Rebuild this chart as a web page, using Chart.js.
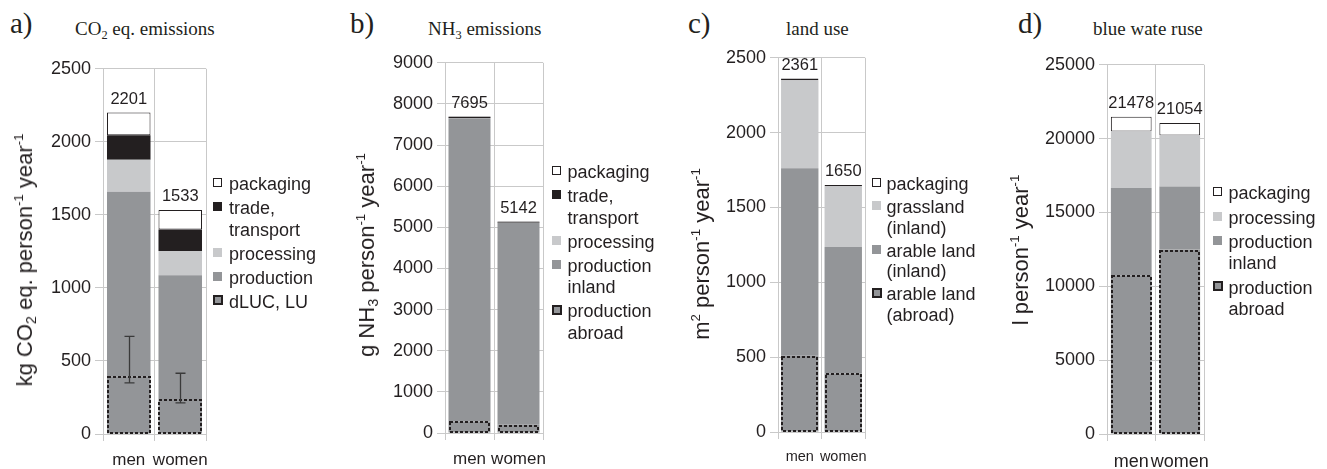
<!DOCTYPE html>
<html>
<head>
<meta charset="utf-8">
<script src="https://cdn.jsdelivr.net/npm/chart.js@4.4.1/dist/chart.umd.min.js"></script>
<style>
  html, body { margin: 0; padding: 0; background: #fff; }
  #fig { position: relative; width: 1327px; height: 469px; overflow: hidden;
         font-family: "Liberation Sans", Arial, sans-serif; color: #231f20; }
  canvas { position: absolute; }
  .letter { position: absolute; font-family: "Liberation Serif", "Times New Roman", serif;
            font-size: 29px; line-height: 29px; white-space: nowrap; }
  .head { position: absolute; font-family: "Liberation Serif", "Times New Roman", serif;
          font-size: 19px; line-height: 19px; white-space: nowrap; }
  .ytitle { position: absolute; font-size: 22px; line-height: 22px; white-space: nowrap;
            transform: translate(-50%, -50%) rotate(-90deg); }
  .legend { position: absolute; font-size: 18px; }
  .item { display: flex; align-items: flex-start; }
  .swbox { flex: none; }
  .sw { width: 9px; height: 9px; box-sizing: border-box; margin-top: 4px; }
  .txt { white-space: pre-line; }
  sup { font-size: 0.6em; vertical-align: 0.7em; line-height: 0; }
  sub { font-size: 0.65em; vertical-align: -0.3em; line-height: 0; }
</style>
</head>
<body>
<div id="fig">
  <canvas id="chartA"></canvas>
  <canvas id="chartB"></canvas>
  <canvas id="chartC"></canvas>
  <canvas id="chartD"></canvas>

  <div class="letter" style="left:10px; top:9px;">a)</div>
  <div class="head" style="left:75px; top:19px;">CO<sub>2</sub> eq. emissions</div>
  <div class="letter" style="left:350px; top:9px;">b)</div>
  <div class="head" style="left:428px; top:19px;">NH<sub>3</sub> emissions</div>
  <div class="letter" style="left:688px; top:9px;">c)</div>
  <div class="head" style="left:786px; top:19px;">land use</div>
  <div class="letter" style="left:1018px; top:9px;">d)</div>
  <div class="head" style="left:1093px; top:19px;">blue wate ruse</div>

  <div class="ytitle" style="left:25px; top:260px;">kg CO<sub>2</sub> eq. person<sup>-1</sup> year<sup>-1</sup></div>
  <div class="ytitle" style="left:367px; top:255px;">g NH<sub>3</sub> person<sup>-1</sup> year<sup>-1</sup></div>
  <div class="ytitle" style="left:702px; top:254px;">m<sup>2</sup> person<sup>-1</sup> year<sup>-1</sup></div>
  <div class="ytitle" style="left:1021px; top:250px;">l person<sup>-1</sup> year<sup>-1</sup></div>

  <div class="legend" id="legendA"></div>
  <div class="legend" id="legendB"></div>
  <div class="legend" id="legendC"></div>
  <div class="legend" id="legendD"></div>
</div>

<script>
// ---- data -------------------------------------------------------------
const sexes = ['men', 'women'];

// a) CO2 eq. emissions, kg per person and year
const co2LandUse    = [395, 239];
const co2Production = [1264, 847];
const co2Processing = [218, 166];
const co2Trade      = [168, 148];
const co2Packaging  = [156, 133];
const co2LandUseLow  = [350, 213];
const co2LandUseHigh = [668, 416];
const co2Ticks = [0, 500, 1000, 1500, 2000, 2500];

// b) NH3 emissions, g per person and year
const nh3Abroad     = [280, 200];
const nh3Inland     = [7370, 4905];
const nh3Processing = [10, 8];
const nh3Trade      = [30, 25];
const nh3Packaging  = [5, 4];
const nh3Ticks = [0, 1000, 2000, 3000, 4000, 5000, 6000, 7000, 8000, 9000];

// c) land use, m2 per person and year
const landAbroad    = [509, 391];
const landArable    = [1253, 845];
const landGrass     = [587, 404];
const landPackaging = [12, 10];
const landTicks = [0, 500, 1000, 1500, 2000, 2500];

// d) blue water use, l per person and year
const waterAbroad     = [10750, 12490];
const waterInland     = [5900, 4270];
const waterProcessing = [3840, 3460];
const waterPackaging  = [988, 834];
const waterTicks = [0, 5000, 10000, 15000, 20000, 25000];

// ---- styling ----------------------------------------------------------
const INK = '#231f20';
const GRID = '#c9c9c9';
const FONT = '"Liberation Sans", Arial, sans-serif';
const FILL = {
  packaging: '#ffffff',
  trade: INK,
  processing: '#c8c9cb',
  production: '#939598',
  abroad: '#939598'
};

function series(label, data, kind) {
  return {
    label: label,
    data: data,
    kind: kind,
    backgroundColor: FILL[kind],
    borderColor: INK,
    borderWidth: kind === 'packaging' ? 1 : 0,
    borderSkipped: false,
    dashed: kind === 'abroad'
  };
}

// dashed frame around the "abroad" / land-use segments
const dashedOutline = {
  id: 'dashedOutline',
  afterDatasetsDraw(chart) {
    const ctx = chart.ctx;
    chart.data.datasets.forEach((d, i) => {
      if (!d.dashed) return;
      chart.getDatasetMeta(i).data.forEach(bar => {
        const p = bar.getProps(['x', 'y', 'base', 'width'], true);
        const x0 = Math.round(p.x - p.width / 2) + 1;
        const x1 = Math.round(p.x + p.width / 2) - 1;
        const y0 = Math.round(p.y) + 1;
        const y1 = Math.round(p.base) - 1;
        ctx.save();
        ctx.setLineDash([3, 2]);
        ctx.lineWidth = 2;
        ctx.strokeStyle = INK;
        ctx.strokeRect(x0, y0, x1 - x0, y1 - y0);
        ctx.restore();
      });
    });
  }
};

// stack total written above each bar
const stackTotals = {
  id: 'stackTotals',
  afterDatasetsDraw(chart) {
    const ctx = chart.ctx;
    const yScale = chart.scales.y;
    ctx.save();
    ctx.font = '16.5px ' + FONT;
    ctx.fillStyle = INK;
    ctx.textAlign = 'center';
    ctx.textBaseline = 'middle';
    chart.data.labels.forEach((_, j) => {
      const sum = chart.data.datasets.reduce((s, d) => s + d.data[j], 0);
      const bar = chart.getDatasetMeta(0).data[j];
      ctx.fillText(String(sum), bar.x, yScale.getPixelForValue(sum) - 13.5);
    });
    ctx.restore();
  }
};

// uncertainty range of the land-use segment
function rangeBars(low, high) {
  return {
    id: 'rangeBars',
    afterDatasetsDraw(chart) {
      const ctx = chart.ctx;
      const yScale = chart.scales.y;
      ctx.save();
      ctx.strokeStyle = '#3a3a3a';
      ctx.lineWidth = 1.3;
      chart.getDatasetMeta(0).data.forEach((bar, j) => {
        const x = Math.round(bar.x) + 0.5;
        const yl = yScale.getPixelForValue(low[j]);
        const yh = yScale.getPixelForValue(high[j]);
        ctx.beginPath();
        ctx.moveTo(x, yl); ctx.lineTo(x, yh);
        ctx.moveTo(x - 5, yl); ctx.lineTo(x + 5, yl);
        ctx.moveTo(x - 5, yh); ctx.lineTo(x + 5, yh);
        ctx.stroke();
      });
      ctx.restore();
    }
  };
}

const Y_W = 75, PAD_T = 14, PAD_R = 24, X_H = 40;

function panel(id, box, datasets, ticks, opt, extraPlugins) {
  const cv = document.getElementById(id);
  const w = (box.R - box.L) + Y_W + PAD_R;
  const h = PAD_T + (box.B - box.T) + X_H;
  cv.width = w; cv.height = h;
  cv.style.width = w + 'px'; cv.style.height = h + 'px';
  cv.style.left = (box.L - Y_W) + 'px';
  cv.style.top = (box.T - PAD_T) + 'px';

  datasets.forEach(d => { d.barPercentage = opt.barPct; d.categoryPercentage = 1; });

  return new Chart(cv, {
    type: 'bar',
    data: { labels: sexes, datasets: datasets },
    options: {
      responsive: false,
      animation: false,
      devicePixelRatio: 1,
      layout: { padding: { top: PAD_T, right: PAD_R, left: 0, bottom: 0 } },
      plugins: { legend: { display: false }, tooltip: { enabled: false } },
      scales: {
        x: {
          stacked: true,
          grid: { offset: true, color: GRID, tickLength: 7 },
          border: { color: GRID },
          ticks: { color: INK, font: { family: FONT, size: opt.xFont }, padding: opt.xPad,
                   maxRotation: 0, autoSkip: false },
          afterFit: s => { s.height = X_H; }
        },
        y: {
          stacked: true,
          min: ticks[0],
          max: ticks[ticks.length - 1],
          grid: { color: GRID, tickLength: 8 },
          border: { color: GRID },
          ticks: { color: INK, font: { family: FONT, size: 18 }, padding: 4,
                   callback: v => String(v) },
          afterBuildTicks: s => { s.ticks = ticks.map(v => ({ value: v })); },
          afterFit: s => { s.width = Y_W; }
        }
      }
    },
    plugins: [dashedOutline, stackTotals].concat(extraPlugins || [])
  });
}

function legend(id, pos, datasets) {
  const el = document.getElementById(id);
  el.style.left = pos.x + 'px';
  el.style.top = pos.top + 'px';
  datasets.slice().reverse().forEach((d, k, arr) => {
    const item = document.createElement('div');
    item.className = 'item';
    if (k < arr.length - 1) item.style.marginBottom = pos.gap + 'px';
    const box = document.createElement('div');
    box.className = 'swbox';
    box.style.width = pos.indent + 'px';
    const sw = document.createElement('div');
    sw.className = 'sw';
    sw.style.background = d.backgroundColor;
    if (d.kind === 'packaging') sw.style.border = '1px solid ' + INK;
    if (d.kind === 'abroad') {
      sw.style.border = '2px dashed ' + INK;
      sw.style.width = '10px'; sw.style.height = '10px'; sw.style.marginTop = '3.5px';
    }
    box.appendChild(sw);
    const txt = document.createElement('div');
    txt.className = 'txt';
    txt.style.lineHeight = pos.lh + 'px';
    txt.textContent = d.label;
    item.appendChild(box);
    item.appendChild(txt);
    el.appendChild(item);
  });
}

// ---- panels -----------------------------------------------------------
const setA = [
  series('dLUC, LU', co2LandUse, 'abroad'),
  series('production', co2Production, 'production'),
  series('processing', co2Processing, 'processing'),
  series('trade,\ntransport', co2Trade, 'trade'),
  series('packaging', co2Packaging, 'packaging')
];
const setB = [
  series('production\nabroad', nh3Abroad, 'abroad'),
  series('production\ninland', nh3Inland, 'production'),
  series('processing', nh3Processing, 'processing'),
  series('trade,\ntransport', nh3Trade, 'trade'),
  series('packaging', nh3Packaging, 'packaging')
];
const setC = [
  series('arable land\n(abroad)', landAbroad, 'abroad'),
  series('arable land\n(inland)', landArable, 'production'),
  series('grassland\n(inland)', landGrass, 'processing'),
  series('packaging', landPackaging, 'packaging')
];
const setD = [
  series('production\nabroad', waterAbroad, 'abroad'),
  series('production\ninland', waterInland, 'production'),
  series('processing', waterProcessing, 'processing'),
  series('packaging', waterPackaging, 'packaging')
];

panel('chartA', { L: 103, R: 206, T: 68, B: 434 }, setA, co2Ticks,
      { barPct: 0.845, xFont: 17, xPad: 9 }, [rangeBars(co2LandUseLow, co2LandUseHigh)]);
panel('chartB', { L: 445, R: 543, T: 62, B: 433 }, setB, nh3Ticks,
      { barPct: 0.857, xFont: 17, xPad: 9 });
panel('chartC', { L: 778, R: 865, T: 57, B: 432 }, setC, landTicks,
      { barPct: 0.86, xFont: 14.5, xPad: 9 });
panel('chartD', { L: 1107, R: 1204, T: 64, B: 434 }, setD, waterTicks,
      { barPct: 0.84, xFont: 18, xPad: 10 });

legend('legendA', { x: 213, top: 174, indent: 16, lh: 21.5, gap: 2.5 }, setA);
legend('legendB', { x: 552, top: 162, indent: 15.5, lh: 21.5, gap: 2.5 }, setB);
legend('legendC', { x: 872, top: 174, indent: 14.5, lh: 20.5, gap: 2.5 }, setC);
legend('legendD', { x: 1213, top: 183, indent: 15.5, lh: 21, gap: 3.5 }, setD);
</script>
</body>
</html>
